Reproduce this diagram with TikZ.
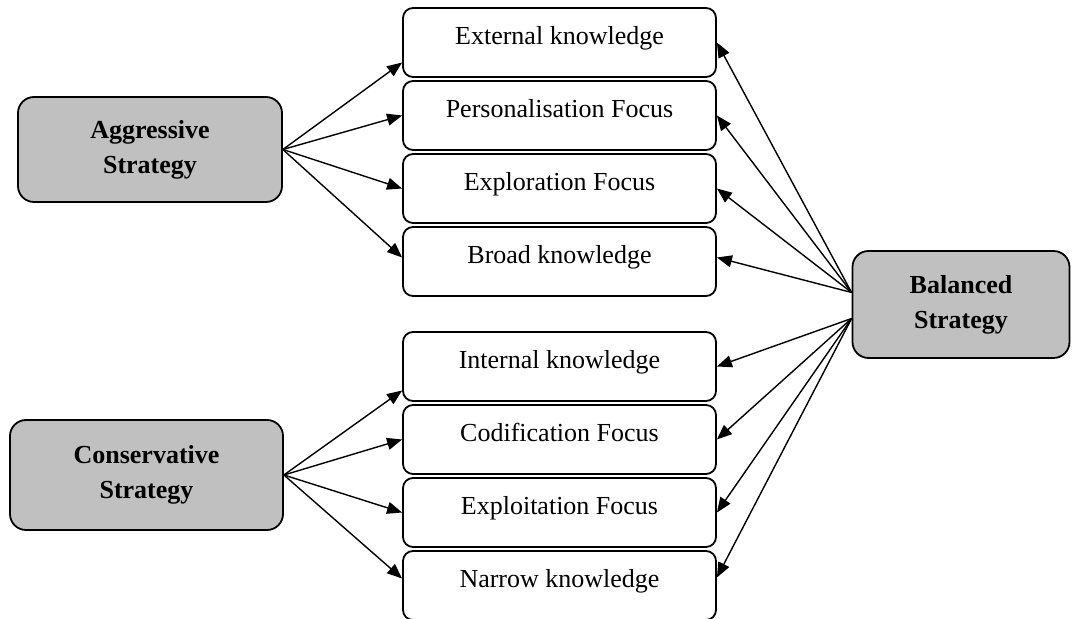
\documentclass[tikz,border=0pt]{standalone}
\usepackage{fontspec}
\setmainfont{Liberation Serif}
\usetikzlibrary{positioning,arrows.meta}
\definecolor{boxgray}{RGB}{192,192,192}
\tikzset{
  itembox/.style  = {shape=rectangle, rounded corners=5pt,
                     draw, line width=0.9pt,
                     minimum width=156.5pt, inner ysep=0pt,
                     text height=18.5pt, text depth=16pt,
                     font=\fontsize{13}{17.5}\selectfont},
  strategy/.style = {shape=rectangle, rounded corners=8pt,
                     draw, line width=0.9pt, align=center,
                     fill=boxgray,
                     font=\fontsize{13}{17.5}\selectfont\bfseries},
  link/.style     = {line width=0.7pt, -{Triangle[length=7.5pt,width=6pt]}}
}

\begin{document}
\begin{tikzpicture}
 [x=0.5pt, y=-0.5pt, node distance=1.1pt]
 \useasboundingbox (0,0) rectangle (1072,619);

  % strategies
  \node [strategy, minimum width=132pt, minimum height=52.5pt] (agg) at (150,149.5) {Aggressive\\Strategy};
  \node [strategy, minimum width=136.5pt, minimum height=55pt] (cons) at (146.5,475) {Conservative\\Strategy};
  \node [strategy, minimum width=108.5pt, minimum height=53.5pt] (bal) at (961,304.5) {Balanced\\Strategy};

  % knowledge boxes
  \node [itembox] (ext) at (559.5,42.5) {External knowledge};
  \node [itembox, below=of ext] (pers) {Personalisation Focus};
  \node [itembox, below=of pers] (explr) {Exploration Focus};
  \node [itembox, below=of explr] (broad) {Broad knowledge};

  \node [itembox] (int) at (559.5,366.5) {Internal knowledge};
  \node [itembox, below=of int] (cod) {Codification Focus};
  \node [itembox, below=of cod] (explt) {Exploitation Focus};
  \node [itembox, below=of explt] (narrow) {Narrow knowledge};

  \draw [link] (agg.east) -- ([yshift=-10pt]ext.west);
  \draw [link] (agg.east) -- (pers.west);
  \draw [link] (agg.east) -- (explr.west);
  \draw [link] (agg.east) -- ([yshift=2pt]broad.west);

  \draw [link] (cons.east) -- ([yshift=-12pt]int.west);
  \draw [link] (cons.east) -- (cod.west);
  \draw [link] (cons.east) -- (explt.west);
  \draw [link] (cons.east) -- ([yshift=3.5pt]narrow.west);

  \draw [link] ([yshift=6pt]bal.west) -- (ext.east);
  \draw [link] ([yshift=6pt]bal.west) -- (pers.east);
  \draw [link] ([yshift=6pt]bal.west) -- (explr.east);
  \draw [link] ([yshift=6pt]bal.west) -- ([yshift=2pt]broad.east);

  \draw [link] ([yshift=-7pt]bal.west) -- (int.east);
  \draw [link] ([yshift=-7pt]bal.west) -- (cod.east);
  \draw [link] ([yshift=-7pt]bal.west) -- (explt.east);
  \draw [link] ([yshift=-7pt]bal.west) -- ([yshift=4pt]narrow.east);
\end{tikzpicture}
\end{document}
